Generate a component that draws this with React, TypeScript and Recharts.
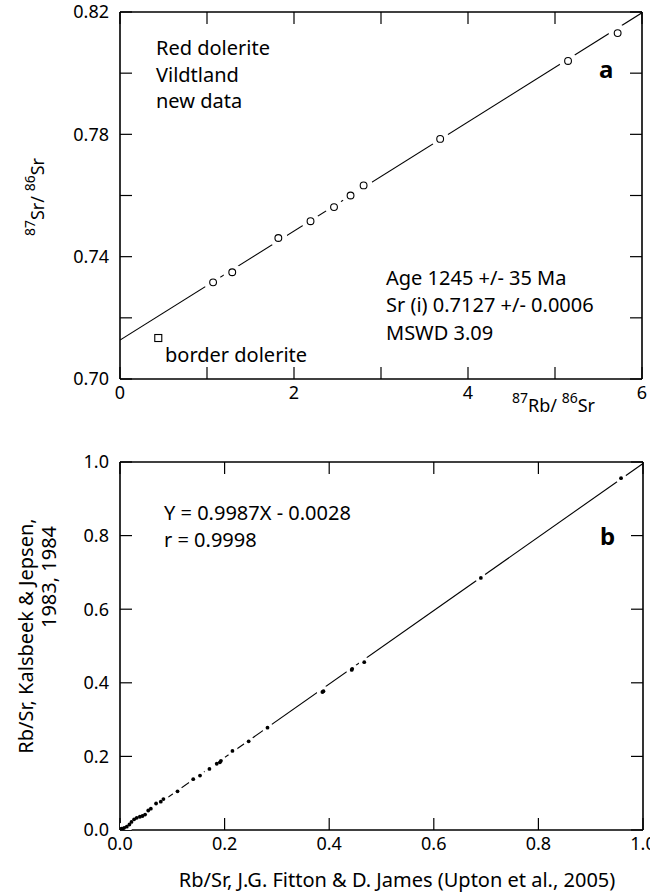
import React from 'react';
import { ScatterChart, Scatter, XAxis, YAxis } from 'recharts';

// ---- Panel a: Rb-Sr isochron, red dolerite, Vildtland ----
const topRbSr = [1.07, 1.29, 1.82, 2.19, 2.46, 2.65, 2.8, 3.68, 5.15, 5.72];
const topSrSr = [0.7316, 0.7349, 0.7461, 0.7516, 0.7562, 0.76, 0.7633, 0.7785, 0.804, 0.8131];
const borderRbSr = [0.44];
const borderSrSr = [0.7134];
const isochronIntercept = 0.7127;
const isochronSlope = 0.01784;
const topXDomain = [0, 6];
const topYDomain = [0.7, 0.82];
const topXTicks = [0, 1, 2, 3, 4, 5, 6];
const topXLabelled = [0, 2, 4, 6];
const topYTicks = [0.7, 0.72, 0.74, 0.76, 0.78, 0.8, 0.82];
const topYLabelled = [0.7, 0.74, 0.78, 0.82];

// ---- Panel b: Rb/Sr comparison ----
const fittonRbSr = [
  0.958, 0.69, 0.467, 0.444, 0.443, 0.389, 0.387, 0.282, 0.246, 0.215, 0.193, 0.191, 0.185,
  0.171, 0.153, 0.14, 0.11, 0.083, 0.078, 0.069, 0.059, 0.054, 0.048, 0.043, 0.038, 0.032,
  0.027, 0.022, 0.018, 0.013, 0.008, 0.005, 0.003,
];
const kalsbeekRbSr = [
  0.956, 0.685, 0.456, 0.438, 0.435, 0.377, 0.375, 0.278, 0.241, 0.215, 0.188, 0.184, 0.18,
  0.166, 0.148, 0.138, 0.105, 0.084, 0.077, 0.072, 0.058, 0.053, 0.042, 0.038, 0.036, 0.033,
  0.029, 0.022, 0.015, 0.009, 0.006, 0.002, 0.004,
];
const fitSlope = 0.9987;
const fitIntercept = -0.0028;
const botDomain = [0, 1];
const botTicks = [0, 0.2, 0.4, 0.6, 0.8, 1.0];

const FONT = '"Noto Sans", sans-serif';

const topPoints = topRbSr.map((x, i) => ({ x, y: topSrSr[i] }));
const borderPoints = borderRbSr.map((x, i) => ({ x, y: borderSrSr[i] }));
const topFit = [
  { x: topXDomain[0], y: isochronIntercept + isochronSlope * topXDomain[0] },
  { x: topXDomain[1], y: isochronIntercept + isochronSlope * topXDomain[1] },
];
const botPoints = fittonRbSr.map((x, i) => ({ x, y: kalsbeekRbSr[i] }));
const botStart = -fitIntercept / fitSlope;
const botFit = [
  { x: botStart, y: fitSlope * botStart + fitIntercept },
  { x: 1, y: fitSlope * 1 + fitIntercept },
];

const axisLine = { stroke: '#000', strokeWidth: 1.6 };
const tickLine = { stroke: '#000', strokeWidth: 1.2 };
const tickStyle = { fill: '#000', fontSize: 18, fontFamily: FONT };

const none = () => <g />;
const halo = (r: number) => (p: any) => <circle cx={p.cx} cy={p.cy} r={r} fill="#fff" />;
const hollowCircle = (p: any) => (
  <circle cx={p.cx} cy={p.cy} r={3.4} fill="#fff" stroke="#000" strokeWidth={1.1} />
);
const hollowSquare = (p: any) => (
  <rect x={p.cx - 3.5} y={p.cy - 3.5} width={7} height={7} fill="#fff" stroke="#000" strokeWidth={1.1} />
);
const dot = (p: any) => <circle cx={p.cx} cy={p.cy} r={1.9} fill="#000" />;

const has = (arr: number[], v: number) => arr.some((a) => Math.abs(a - v) < 1e-6);
const blank = () => '';

// Frame: labelled axes (outside), plus four mirrored, inward-ticked frame axes
function frameAxes(
  xDomain: number[],
  yDomain: number[],
  xTicks: number[],
  yTicks: number[],
  xFmt: (v: number) => string,
  yFmt: (v: number) => string,
  xHeight: number,
) {
  const frame = {
    type: 'number' as const,
    allowDataOverflow: true,
    axisLine,
    tickLine,
    tickSize: 12,
    tickFormatter: blank,
    interval: 0 as const,
    mirror: true,
  };
  return [
    <XAxis
      key="xl"
      xAxisId="lab"
      type="number"
      dataKey="x"
      domain={xDomain}
      ticks={xTicks}
      allowDataOverflow
      height={xHeight}
      axisLine={false}
      tickLine={false}
      tickSize={0}
      tickMargin={7}
      tick={tickStyle}
      tickFormatter={xFmt}
      interval={0}
    />,
    <YAxis
      key="yl"
      yAxisId="lab"
      type="number"
      dataKey="y"
      domain={yDomain}
      ticks={yTicks}
      allowDataOverflow
      width={120}
      axisLine={false}
      tickLine={false}
      tickSize={0}
      tickMargin={11}
      tick={tickStyle}
      tickFormatter={yFmt}
      interval={0}
    />,
    <XAxis key="xb" xAxisId="bt" orientation="bottom" dataKey="x" domain={xDomain} ticks={xTicks} height={1} {...frame} />,
    <XAxis key="xt" xAxisId="top" orientation="top" dataKey="x" domain={xDomain} ticks={xTicks} height={1} {...frame} />,
    <YAxis key="ylt" yAxisId="lt" orientation="left" dataKey="y" domain={yDomain} ticks={yTicks} width={1} {...frame} />,
    <YAxis key="yr" yAxisId="right" orientation="right" dataKey="y" domain={yDomain} ticks={yTicks} width={1} {...frame} />,
  ];
}

function TopChart() {
  return (
    <ScatterChart width={650} height={430} margin={{ top: 12, right: 8, bottom: 0, left: 0 }}>
      {frameAxes(
        topXDomain,
        topYDomain,
        topXTicks,
        topYTicks,
        (v: number) => (has(topXLabelled, v) ? String(v) : ''),
        (v: number) => (has(topYLabelled, v) ? v.toFixed(2) : ''),
        51,
      )}
      <Scatter
        data={topFit}
        xAxisId="lab"
        yAxisId="lab"
        line={{ stroke: '#000', strokeWidth: 1.1 }}
        shape={none}
        isAnimationActive={false}
      />
      <Scatter data={topPoints} xAxisId="top" yAxisId="right" shape={halo(9)} isAnimationActive={false} />
      <Scatter data={topPoints} xAxisId="bt" yAxisId="lt" shape={hollowCircle} isAnimationActive={false} />
      <Scatter data={borderPoints} xAxisId="bt" yAxisId="lt" shape={hollowSquare} isAnimationActive={false} />
    </ScatterChart>
  );
}

function BottomChart() {
  return (
    <ScatterChart width={650} height={464} margin={{ top: 32, right: 7, bottom: 0, left: 0 }}>
      {frameAxes(
        botDomain,
        botDomain,
        botTicks,
        botTicks,
        (v: number) => v.toFixed(1),
        (v: number) => v.toFixed(1),
        64,
      )}
      <Scatter
        data={botFit}
        xAxisId="lab"
        yAxisId="lab"
        line={{ stroke: '#000', strokeWidth: 1.1 }}
        shape={none}
        isAnimationActive={false}
      />
      <Scatter data={botPoints} xAxisId="top" yAxisId="right" shape={halo(5.5)} isAnimationActive={false} />
      <Scatter data={botPoints} xAxisId="bt" yAxisId="lt" shape={dot} isAnimationActive={false} />
    </ScatterChart>
  );
}

function Overlay() {
  const t = { fontFamily: FONT, fontSize: 20, fill: '#000' } as const;
  return (
    <svg
      width={650}
      height={894}
      style={{ position: 'absolute', left: 0, top: 0, pointerEvents: 'none' }}
    >
      {/* Panel a */}
      <text x={156} y={55} {...t}>Red dolerite</text>
      <text x={156} y={82} {...t}>Vildtland</text>
      <text x={156} y={108} {...t}>new data</text>
      <text x={599} y={78} {...t} fontSize={24} fontWeight="bold">a</text>
      <text x={386} y={285} {...t}>Age 1245 +/- 35 Ma</text>
      <text x={386} y={312} {...t}>Sr (i) 0.7127 +/- 0.0006</text>
      <text x={386} y={340} {...t}>MSWD 3.09</text>
      <text x={165} y={362} {...t}>border dolerite</text>
      <text x={512} y={412} {...t} fontSize={18}>
        <tspan fontSize={14} dy={-9}>87</tspan>
        <tspan dy={9}>Rb/ </tspan>
        <tspan fontSize={14} dy={-9}>86</tspan>
        <tspan dy={9}>Sr</tspan>
      </text>
      <text transform="translate(44,197) rotate(-90)" textAnchor="middle" {...t} fontSize={18}>
        <tspan fontSize={14} dy={-9}>87</tspan>
        <tspan dy={9}>Sr/ </tspan>
        <tspan fontSize={14} dy={-9}>86</tspan>
        <tspan dy={9}>Sr</tspan>
      </text>
      {/* Panel b */}
      <text x={164} y={520} {...t}>Y = 0.9987X - 0.0028</text>
      <text x={164} y={547} {...t}>r = 0.9998</text>
      <text x={600} y={545} {...t} fontSize={24} fontWeight="bold">b</text>
      <text transform="translate(33,636) rotate(-90)" textAnchor="middle" {...t}>
        Rb/Sr,  Kalsbeek &amp; Jepsen,
      </text>
      <text transform="translate(56,577) rotate(-90)" textAnchor="middle" {...t}>
        1983, 1984
      </text>
      <text x={397} y={887} textAnchor="middle" {...t}>
        Rb/Sr,  J.G. Fitton &amp; D. James (Upton et al., 2005)
      </text>
    </svg>
  );
}

export default function App() {
  return (
    <div style={{ position: 'absolute', left: 0, top: 0, width: 650, height: 894, background: '#fff' }}>
      <div style={{ position: 'absolute', left: 0, top: 0 }}>
        <TopChart />
      </div>
      <div style={{ position: 'absolute', left: 0, top: 430 }}>
        <BottomChart />
      </div>
      <Overlay />
    </div>
  );
}
